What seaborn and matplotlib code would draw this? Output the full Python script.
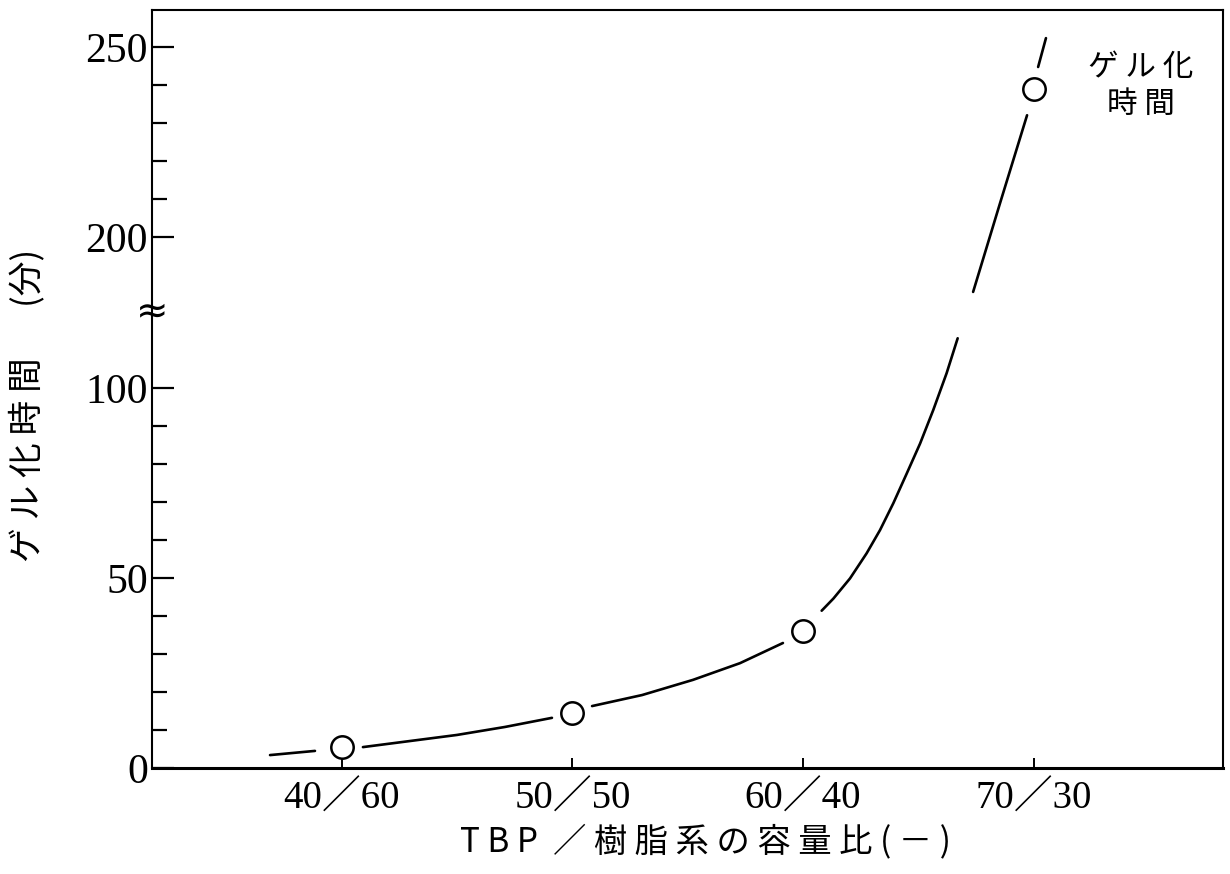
import numpy as np
import pandas as pd
import matplotlib
matplotlib.use("Agg")
import matplotlib.pyplot as plt
import matplotlib.transforms as mtransforms
from matplotlib.ticker import FixedLocator, NullFormatter
import seaborn as sns

# ---------------- data ----------------
ratio_labels = ["40／60", "50／50", "60／40", "70／30"]
ratio_pos = [0, 1, 2, 3]
gel_time = [5.5, 14.5, 36.0, 239.0]          # minutes

# hand-drawn trend curve in its visible pieces
curve_seg = [0, 0,
             1, 1, 1, 1, 1,
             2, 2, 2, 2, 2,
             3, 3, 3, 3, 3, 3, 3, 3, 3, 3, 3,
             4, 4, 4,
             5, 5]
curve_x = [-0.312, -0.117,
           0.091, 0.295, 0.499, 0.707, 0.911,
           1.085, 1.302, 1.523, 1.727, 1.913,
           2.081, 2.132, 2.204, 2.276, 2.334, 2.392, 2.450, 2.508, 2.565, 2.623, 2.671,
           2.738, 2.855, 2.972,
           3.020, 3.054]
curve_y = [3.4, 4.5,
           5.5, 7.1, 8.7, 10.8, 13.2,
           16.3, 19.2, 23.2, 27.6, 32.9,
           41.4, 44.6, 49.9, 56.5, 62.6, 69.7, 77.5, 85.4, 94.2, 103.9, 113.1,
           185.6, 209.0, 232.1,
           244.8, 252.4]

y_major = [0, 50, 100, 200, 250]
y_minor = [10, 20, 30, 40, 60, 70, 80, 90, 210, 220, 230, 240]
y_tick_labels = ["0", "50", "100", "200", "250"]

x_title = "T B P  ／ 樹 脂 系 の 容 量 比 ( － )"
y_title = "ゲ ル 化 時 間　  (分)"
note_text = "ゲ ル 化\n時 間"

# ---------------- broken y scale ----------------
B_LO, B_HI, GAP = 120.0, 180.5, 0.2


def fwd(y):
    y = np.asarray(y, dtype=float)
    return np.where(y <= B_LO, y,
                    np.where(y >= B_HI, y - (B_HI - B_LO) + GAP,
                             B_LO + (y - B_LO) * GAP / (B_HI - B_LO)))


def inv(d):
    d = np.asarray(d, dtype=float)
    return np.where(d <= B_LO, d,
                    np.where(d >= B_LO + GAP, d + (B_HI - B_LO) - GAP,
                             B_LO + (d - B_LO) * (B_HI - B_LO) / GAP))


# ---------------- figure ----------------
sns.set_style("ticks")
plt.rcParams["font.family"] = ["Noto Sans CJK JP", "DejaVu Sans"]

fig = plt.figure(figsize=(12.3, 8.74), dpi=100)
ax = fig.add_axes([152 / 1230, 1 - 768 / 874, (1223 - 152) / 1230, (768 - 10) / 874])
ax.set_yscale("function", functions=(fwd, inv))

curve_df = pd.DataFrame({"x": curve_x, "y": curve_y, "seg": curve_seg})
sns.lineplot(data=curve_df, x="x", y="y", units="seg", estimator=None, sort=False,
             color="black", linewidth=1.9, legend=False, ax=ax)

pts_df = pd.DataFrame({"x": ratio_pos, "y": gel_time})
sns.scatterplot(data=pts_df, x="x", y="y", s=260, marker="o", color="white",
                edgecolor="black", linewidth=1.8, zorder=4, legend=False, ax=ax)

ax.set_xlim(-0.824, 3.822)
ax.set_ylim(0, 259.8)

serif = ["Liberation Serif", "Noto Sans CJK JP"]
ax.set_xticks(ratio_pos, labels=ratio_labels, fontfamily=serif, fontsize=28)
ax.set_yticks(y_major, labels=y_tick_labels, fontfamily=serif, fontsize=30)
ax.yaxis.set_minor_locator(FixedLocator(y_minor))
ax.yaxis.set_minor_formatter(NullFormatter())

ax.tick_params(axis="y", which="major", direction="in", length=16, width=1.6, pad=3, colors="black")
ax.tick_params(axis="y", which="minor", direction="in", length=11, width=1.6, colors="black")
ax.tick_params(axis="x", which="major", direction="in", length=7, width=1.4, pad=9, colors="black")

for side in ["left", "top", "right"]:
    ax.spines[side].set_linewidth(1.5)
    ax.spines[side].set_color("black")
ax.spines["bottom"].set_linewidth(2.2)
ax.spines["bottom"].set_color("black")

ax.set_xlabel(x_title, fontsize=24, color="black")
ax.xaxis.set_label_coords((705 - 152) / 1071, (768 - 824) / 758)
ax.set_ylabel(y_title, fontsize=25, color="black")
ax.yaxis.set_label_coords((45 - 152) / 1071, (768 - 405) / 758)

# axis-break mark on the y spine
trans = mtransforms.blended_transform_factory(ax.transAxes, ax.transData)
ax.text(0, 150, "≈", transform=trans, ha="center", va="center",
        fontsize=28, family="DejaVu Sans", color="black", zorder=5)

# series note
ax.text((1141 - 152) / 1071, (768 - 86) / 758, note_text, transform=ax.transAxes,
        ha="center", va="center", multialignment="center", fontsize=22,
        linespacing=1.25, color="black")

fig.savefig("out.png", dpi=100, facecolor="white")
